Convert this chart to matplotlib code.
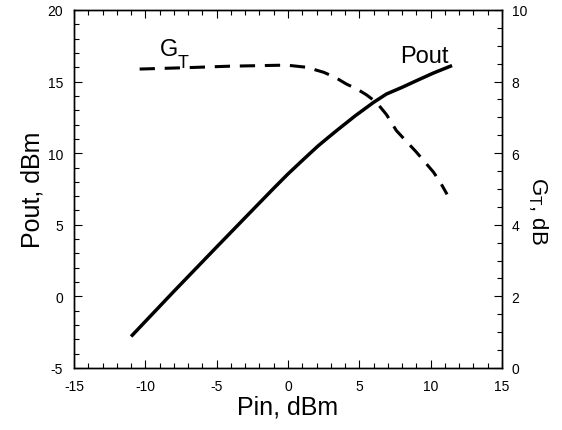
import matplotlib
matplotlib.use("Agg")
import matplotlib.pyplot as plt
from matplotlib.ticker import MultipleLocator

plt.rcParams['font.family'] = ['Liberation Sans', 'DejaVu Sans']
plt.rcParams['mathtext.fontset'] = 'custom'
plt.rcParams['mathtext.rm'] = 'Liberation Sans'
plt.rcParams['mathtext.it'] = 'Liberation Sans'
plt.rcParams['axes.unicode_minus'] = False

pin_pout = [-11.0, -8.0, -5.0, -2.3, -1.0, 0.0, 0.8, 1.5, 2.1, 2.8, 3.4, 4.7, 6.0, 6.9, 8.0, 9.0, 10.2, 11.5]
pout = [-2.8, 0.35, 3.45, 6.22, 7.55, 8.55, 9.3, 9.95, 10.5, 11.08, 11.57, 12.6, 13.55, 14.13, 14.6, 15.06, 15.6, 16.12]

pin_gt = [-10.4, -7.0, -4.1, -0.1, 1.3, 2.5, 3.3, 4.1, 4.8, 5.5, 6.2, 6.9, 7.6, 8.3, 9.0, 9.6, 10.2, 10.7, 11.15]
gt = [8.35, 8.39, 8.43, 8.46, 8.4, 8.26, 8.12, 7.93, 7.8, 7.63, 7.42, 7.08, 6.63, 6.33, 6.03, 5.75, 5.47, 5.17, 4.85]

fig = plt.figure(figsize=(5.62, 4.31), dpi=100)
ax = fig.add_axes([0.1317, 0.1439, 0.7615, 0.8306])
ax2 = ax.twinx()

ax.plot(pin_pout, pout, color='black', lw=2.5, solid_capstyle='butt', solid_joinstyle='round')
ax2.plot(pin_gt, gt, color='black', lw=2.2, dashes=(5, 3.2))

ax.set_xlim(-15, 15)
ax.set_ylim(-5, 20)
ax2.set_ylim(0, 10)

ax.xaxis.set_major_locator(MultipleLocator(5))
ax.xaxis.set_minor_locator(MultipleLocator(1))
ax.yaxis.set_major_locator(MultipleLocator(5))
ax.yaxis.set_minor_locator(MultipleLocator(1))
ax2.yaxis.set_major_locator(MultipleLocator(2))
ax2.yaxis.set_minor_locator(MultipleLocator(0.5))

ax.tick_params(which='both', direction='in', top=True, labelsize=10, colors='black')
ax.tick_params(axis='y', pad=8)
ax.tick_params(axis='x', pad=8)
ax.tick_params(which='major', length=6, width=0.8)
ax.tick_params(which='minor', length=3.5, width=0.8)
ax2.tick_params(which='both', direction='in', labelsize=10, pad=7)
ax2.tick_params(which='major', length=6, width=0.8)
ax2.tick_params(which='minor', length=3.5, width=0.8)

for a in (ax, ax2):
    for s in a.spines.values():
        s.set_linewidth(1.0)

ax.set_xlabel('Pin, dBm', fontsize=18, labelpad=1)
ax.set_ylabel('Pout, dBm', fontsize=18, labelpad=2)
ax2.set_ylabel(r'$\mathregular{G_T}$, dB', fontsize=16, rotation=270, labelpad=16)
ax2.yaxis.set_label_coords(1.112, 0.44)

ax.text(-8.97, 16.86, 'G', fontsize=17, ha='left', va='baseline')
ax.text(-7.75, 16.02, 'T', fontsize=13, ha='left', va='baseline')
ax.text(7.85, 16.37, 'Pout', fontsize=17, ha='left', va='baseline')

fig.savefig('out.png', dpi=100)
